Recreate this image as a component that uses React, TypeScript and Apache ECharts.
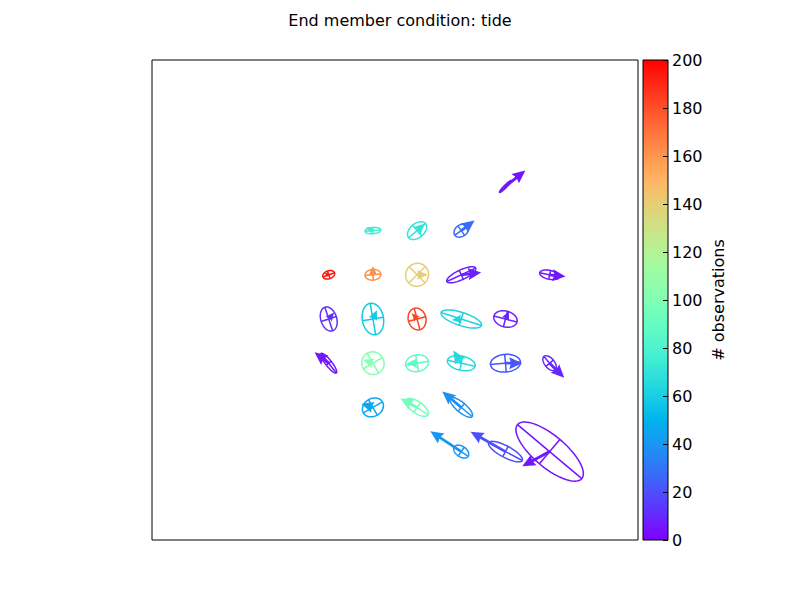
import { useEffect, useRef } from "react";
import * as echarts from "echarts";

// grid cell positions (x = column, y = row, 1 unit = one cell)
const COLS = [8, 5, 6, 7, 4, 5, 6, 7, 9, 4, 5, 6, 7, 8, 4, 5, 6, 7, 8, 9, 5, 6, 7, 7, 8, 9];
const ROWS = [8, 7, 7, 7, 6, 6, 6, 6, 6, 5, 5, 5, 5, 5, 4, 4, 4, 4, 4, 4, 3, 3, 3, 2, 2, 2];
// arrow components
const U_VALS = [0.45, -0.15, 0.18, 0.3, -0.1, 0, 0.24, 0.45, 0.36, 0.12, 0.09, -0.12, -0.21, 0.08, -0.32, -0.22, -0.23, -0.18, 0.38, 0.33, -0.26, -0.38, -0.43, -0.7, -0.79, -0.62];
const V_VALS = [0.36, 0.08, 0.16, 0.23, 0.03, 0.2, 0, 0.05, -0.04, 0.15, 0.2, 0.13, -0.02, 0.17, 0.25, 0.08, 0, 0.29, 0, -0.33, 0.08, 0.2, 0.36, 0.46, 0.45, -0.33];
// ellipse semi-axes and orientation (deg, counter-clockwise from east)
const MAJOR = [0.19, 0.18, 0.25, 0.18, 0.14, 0.18, 0.265, 0.36, 0.23, 0.28, 0.36, 0.25, 0.48, 0.27, 0.28, 0.26, 0.26, 0.32, 0.34, 0.2, 0.25, 0.3, 0.32, 0.19, 0.43, 0.95];
const MINOR = [0.03, 0.07, 0.16, 0.13, 0.09, 0.12, 0.255, 0.11, 0.1, 0.18, 0.24, 0.2, 0.15, 0.18, 0.07, 0.25, 0.19, 0.16, 0.2, 0.11, 0.2, 0.13, 0.11, 0.12, 0.13, 0.36];
const ANGLE = [45, 5, 40, 35, 20, 5, 45, 25, -12, 108, 100, 105, -18, -15, 128, 120, 10, -12, 5, -50, 30, -35, -40, -35, -28, -40];
const COUNTS = [5, 75, 70, 28, 195, 162, 140, 8, 6, 12, 58, 183, 62, 8, 6, 102, 88, 65, 22, 10, 45, 95, 38, 40, 20, 5];

const CBAR_MIN = 0;
const CBAR_MAX = 200;
const FONT = "DejaVu Sans";

// matplotlib "rainbow" colormap
function rainbow(x: number) {
  const t = Math.max(0, Math.min(1, x));
  const r = Math.min(1, Math.abs(2 * t - 0.5));
  const g = Math.sin(Math.PI * t);
  const b = Math.cos((Math.PI * t) / 2);
  const h = (c: number) => Math.round(c * 255).toString(16).padStart(2, "0");
  return "#" + h(r) + h(g) + h(b);
}

const SERIES_DATA = COLS.map((x, i) => [
  x,
  ROWS[i],
  U_VALS[i],
  V_VALS[i],
  MAJOR[i],
  MINOR[i],
  ANGLE[i],
  COUNTS[i],
]);

function renderEllipse(_params: any, api: any) {
  const c = api.coord([api.value(0), api.value(1)]);
  const s = api.size([1, 1]);
  const u = api.value(2);
  const v = api.value(3);
  const A = api.value(4) * s[0];
  const B = api.value(5) * s[0];
  const ang = (api.value(6) * Math.PI) / 180;
  const color = rainbow((api.value(7) - CBAR_MIN) / (CBAR_MAX - CBAR_MIN));

  const mx = Math.cos(ang);
  const my = -Math.sin(ang);
  const nx = Math.sin(ang);
  const ny = Math.cos(ang);
  const pts: number[][] = [];
  for (let i = 0; i < 72; i++) {
    const t = (i / 72) * Math.PI * 2;
    pts.push([
      c[0] + A * Math.cos(t) * mx + B * Math.sin(t) * nx,
      c[1] + A * Math.cos(t) * my + B * Math.sin(t) * ny,
    ]);
  }
  const lineStyle = { stroke: color, lineWidth: 1.5, fill: null };
  const children: any[] = [
    { type: "polygon", shape: { points: pts }, style: lineStyle },
    {
      type: "line",
      shape: { x1: c[0] - A * mx, y1: c[1] - A * my, x2: c[0] + A * mx, y2: c[1] + A * my },
      style: lineStyle,
    },
    {
      type: "line",
      shape: { x1: c[0] - B * nx, y1: c[1] - B * ny, x2: c[0] + B * nx, y2: c[1] + B * ny },
      style: lineStyle,
    },
  ];

  // quiver arrow from the cell centre
  const dx = u * s[0];
  const dy = -v * s[1];
  const L = Math.hypot(dx, dy);
  if (L > 0.5) {
    const ux = dx / L;
    const uy = dy / L;
    const px = -uy;
    const py = ux;
    let w = 2.8;
    let hl = 13;
    let hal = 11.7;
    let hw = 12;
    if (L < hl) {
      const k = L / hl;
      w *= k;
      hl *= k;
      hal *= k;
      hw *= k;
    }
    const local = [
      [0, -w / 2],
      [L - hal, -w / 2],
      [L - hl, -hw / 2],
      [L, 0],
      [L - hl, hw / 2],
      [L - hal, w / 2],
      [0, w / 2],
    ];
    children.push({
      type: "polygon",
      shape: { points: local.map(([a, b]) => [c[0] + a * ux + b * px, c[1] + a * uy + b * py]) },
      style: { fill: color, stroke: null },
    });
  }
  return { type: "group", children };
}

function renderColorbar(_params: any, api: any) {
  const p0 = api.coord([0, CBAR_MIN]);
  const p1 = api.coord([1, CBAR_MAX]);
  const stops = [];
  for (let i = 0; i <= 40; i++) {
    stops.push({ offset: i / 40, color: rainbow(i / 40) });
  }
  return {
    type: "rect",
    shape: { x: p0[0], y: p1[1], width: p1[0] - p0[0], height: p0[1] - p1[1] },
    style: {
      fill: new echarts.graphic.LinearGradient(0, 1, 0, 0, stops),
      stroke: "#000",
      lineWidth: 1,
    },
  };
}

export default function App() {
  const ref = useRef<HTMLDivElement>(null);

  useEffect(() => {
    document.body.style.margin = "0";
    if (!ref.current) return;
    const chart = echarts.init(ref.current, null, { renderer: "svg" });
    chart.setOption({
      animation: false,
      backgroundColor: "#fff",
      textStyle: { fontFamily: FONT },
      title: {
        text: "End member condition: tide",
        left: "center",
        top: 7,
        textStyle: { fontFamily: FONT, fontSize: 16, fontWeight: "normal", color: "#000" },
      },
      grid: [
        {
          left: 152,
          top: 60,
          width: 486,
          height: 480,
          show: true,
          borderColor: "#000",
          borderWidth: 1,
          backgroundColor: "transparent",
        },
        { left: 643, top: 60, width: 25, height: 480 },
      ],
      xAxis: [
        { type: "value", gridIndex: 0, min: 0, max: 11, show: false },
        { type: "value", gridIndex: 1, min: 0, max: 1, show: false },
      ],
      yAxis: [
        { type: "value", gridIndex: 0, min: 0, max: 10.86, show: false },
        {
          type: "value",
          gridIndex: 1,
          position: "right",
          min: CBAR_MIN,
          max: CBAR_MAX,
          interval: 20,
          name: "# observations",
          nameLocation: "middle",
          nameRotate: 90,
          nameGap: 42,
          nameTextStyle: { fontFamily: FONT, fontSize: 16, color: "#000" },
          axisLine: { show: false, onZero: false },
          axisTick: { show: true, inside: true, length: 5, lineStyle: { color: "#000" } },
          axisLabel: { fontFamily: FONT, fontSize: 16, color: "#000", margin: 4 },
          splitLine: { show: false },
          z: 10,
        },
      ],
      series: [
        {
          type: "custom",
          xAxisIndex: 0,
          yAxisIndex: 0,
          data: SERIES_DATA,
          encode: { x: 0, y: 1 },
          renderItem: renderEllipse,
          silent: true,
        },
        {
          type: "custom",
          xAxisIndex: 1,
          yAxisIndex: 1,
          data: [[0, CBAR_MIN]],
          renderItem: renderColorbar,
          silent: true,
          z: 1,
        },
      ],
    });
    return () => chart.dispose();
  }, []);

  return <div ref={ref} style={{ width: 800, height: 600 }} />;
}
